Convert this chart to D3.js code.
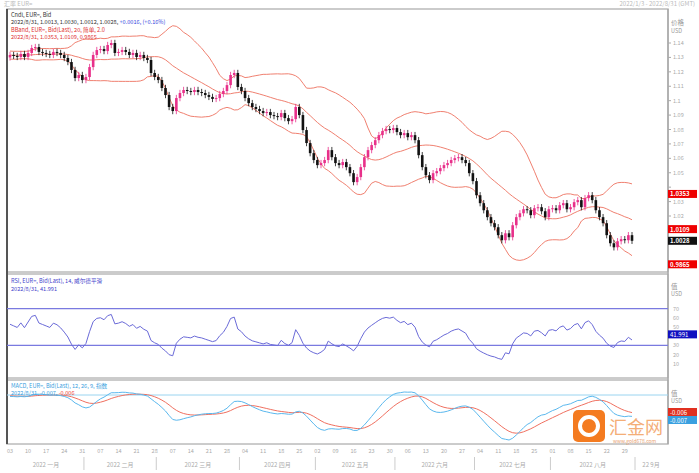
<!DOCTYPE html>
<html><head><meta charset="utf-8">
<script src="https://cdn.jsdelivr.net/npm/d3@7"></script>
<style>body{margin:0;background:#fff;font-family:"Noto Sans CJK SC","DejaVu Sans",sans-serif}</style>
</head><body><svg id="c" width="699" height="473"></svg>
<script>
// pre-history closes (used only for indicators)
const preCloses=[1.1290,1.1310,1.1335,1.1320,1.1300,1.1315,1.1340,1.1330,1.1305,1.1290,1.1310,1.1325,1.1345,1.1330,1.1315,1.1300,1.1320,1.1335,1.1325,1.1310,1.1300,1.1315,1.1330,1.1320,1.1305,1.1295];
// daily closes 2022-01-03 .. 2022-08-31
const closes=[
1.1317,1.1310,1.1303,1.1324,1.1303,1.1331,1.1365,1.1372,1.1338,1.1331,1.1324,1.1317,1.1338,1.1331,1.1317,1.1296,1.1268,1.1213,1.1157,1.1178,1.1143,
1.1164,1.1233,1.1317,1.1351,1.1358,1.1344,1.1386,1.1400,1.1331,1.1338,1.1351,1.1338,1.1317,1.1331,1.1303,1.1317,1.1296,1.1282,1.1192,1.1164,
1.1143,1.1088,1.1039,1.0956,1.0928,1.1018,1.1053,1.1074,1.1067,1.1060,1.1074,1.1060,1.1053,1.1039,1.1026,1.1012,1.1018,1.1046,1.1067,1.1108,1.1178,1.1192,1.1095,
1.1067,1.1018,1.0983,1.0956,1.0942,1.0928,1.0914,1.0921,1.0900,1.0893,1.0886,1.0914,1.0879,1.0858,1.0872,1.0956,1.0900,1.0796,1.0706,1.0636,1.0588,
1.0553,1.0567,1.0588,1.0657,1.0608,1.0567,1.0553,1.0574,1.0539,1.0497,1.0435,1.0470,1.0539,1.0608,1.0657,1.0692,1.0726,1.0761,1.0789,1.0803,1.0796,1.0810,
1.0782,1.0761,1.0775,1.0747,1.0761,1.0726,1.0622,1.0539,1.0483,1.0449,1.0497,1.0511,1.0532,1.0553,1.0567,1.0588,1.0601,1.0608,1.0588,1.0567,1.0497,1.0442,
1.0344,1.0289,1.0240,1.0192,1.0150,1.0122,1.0067,1.0032,1.0080,1.0053,1.0136,1.0192,1.0219,1.0247,1.0240,1.0206,1.0254,1.0261,1.0233,1.0192,1.0247,
1.0254,1.0240,1.0275,1.0289,1.0247,1.0261,1.0296,1.0310,1.0261,1.0324,1.0344,1.0310,1.0240,1.0192,1.0150,1.0067,1.0011,0.9983,1.0025,1.0039,1.0032,1.0067,1.0028];
const firstOpen=1.1300;
const lastBands=[1.0353,1.0109,0.9865];
const lastRsi=41.991;
const lastMacd=[-0.007,-0.006];
const monthLabels=["2022 一月","2022 二月","2022 三月","2022 四月","2022 五月","2022 六月","2022 七月","2022 八月","22 9月"];
const priceTicks=[1.14,1.13,1.12,1.11,1.10,1.09,1.08,1.07,1.06,1.05,1.04,1.03,1.02,1.01];
const rsiTicks=[70,60,50,40,30,20,10];

const svg=d3.select("#c");
const N=closes.length;
const all=preCloses.concat(closes), P=preCloses.length;
const opens=closes.map((c,i)=>i?closes[i-1]:firstOpen);
const highs=closes.map((c,i)=>Math.max(c,opens[i])+0.0022);
const lows=closes.map((c,i)=>Math.min(c,opens[i])-0.0022);
const dates=[];for(let d=new Date(2022,0,3);dates.length<N;d.setDate(d.getDate()+1)){if(d.getDay()%6)dates.push(new Date(d));}
const bb=all.map((c,i)=>{if(i<19)return null;const s=all.slice(i-19,i+1),m=d3.mean(s),sd=Math.sqrt(d3.mean(s,v=>(v-m)**2));return [m+2*sd,m,m-2*sd];}).slice(P);
let ag=0,al=0;const rsiAll=all.map((c,i)=>{if(!i)return 50;const ch=c-all[i-1];const g=Math.max(ch,0),l=Math.max(-ch,0);if(i<=14){ag+=g/14;al+=l/14;}else{ag=(ag*13+g)/14;al=(al*13+l)/14;}return al===0?100:100-100/(1+ag/al);});
const rsi=rsiAll.slice(P);
const ema=(arr,n)=>{const k=2/(n+1);let e=arr[0];return arr.map(v=>e=v*k+e*(1-k));};
const e26=ema(all,26);const macdAll=ema(all,12).map((v,i)=>v-e26[i]);const sigAll=ema(macdAll,9);
const macd=macdAll.slice(P),sig=sigAll.slice(P);

const x=d3.scaleLinear().domain([0,N-1]).range([10,632]);
const y=d3.scaleLinear().domain([1.14,1.02]).range([43,216]);
const yr=d3.scaleLinear().domain([0,100]).range([373,281]);
const ym=d3.scaleLinear().domain(d3.extent(macd.concat(sig))).range([440,392]);

svg.append("rect").attr("x",7).attr("y",9).attr("width",661).attr("height",263).attr("fill","none").attr("stroke","#bbb").attr("stroke-width",1.5);
svg.append("rect").attr("x",7).attr("y",274).attr("width",661).attr("height",104).attr("fill","none").attr("stroke","#bbb").attr("stroke-width",1.5);
svg.append("rect").attr("x",7).attr("y",380).attr("width",661).attr("height",64).attr("fill","none").attr("stroke","#bbb").attr("stroke-width",1.5);
svg.append("line").attr("x1",7).attr("x2",7).attr("y1",9).attr("y2",444).attr("stroke","#555").attr("stroke-width",2);
svg.append("text").attr("x",4).attr("y",6).attr("font-size",6).attr("fill","#bbb").text("汇率 EUR=");
svg.append("text").attr("x",695).attr("y",6).attr("font-size",6).attr("fill","#bbb").attr("text-anchor","end").text("2022/1/3 - 2022/8/31 (GMT)");

const band=k=>d3.line().x((d,i)=>x(i)).y(d=>y(d[k]));
[0,1,2].forEach(k=>svg.append("path").datum(bb).attr("d",band(k)).attr("fill","none").attr("stroke","#f08070").attr("stroke-width",1));
const g=svg.append("g");
closes.forEach((c,i)=>{const up=c>=opens[i],col=up?"#e8308a":"#111";
 g.append("line").attr("x1",x(i)).attr("x2",x(i)).attr("y1",y(highs[i])).attr("y2",y(lows[i])).attr("stroke",col).attr("stroke-width",0.8);
 g.append("rect").attr("x",x(i)-1.3).attr("width",2.6).attr("y",y(Math.max(c,opens[i]))).attr("height",Math.max(1,Math.abs(y(c)-y(opens[i])))).attr("fill",col);});

svg.append("line").attr("x1",668).attr("x2",668).attr("y1",9).attr("y2",444).attr("stroke","#999");
svg.append("text").attr("x",671).attr("y",25).attr("font-size",6.5).attr("fill","#999").text("价格");
svg.append("text").attr("x",671).attr("y",33).attr("font-size",5.5).attr("fill","#999").text("USD");
const badges=[[lastBands[0],"#e00"],[lastBands[1],"#e00"],[closes[N-1],"#111"],[lastBands[2],"#e00"]];
priceTicks.forEach(t=>{svg.append("line").attr("x1",668).attr("x2",671).attr("y1",y(t)).attr("y2",y(t)).attr("stroke","#aaa");
 if(badges.some(b=>Math.abs(y(b[0])-y(t))<7))return;
 svg.append("text").attr("x",673).attr("y",y(t)+2).attr("font-size",5.5).attr("fill","#aaa").text(t.toFixed(2).replace(/0$/,""));});
badges.forEach(([v,bg])=>{
 svg.append("rect").attr("x",668).attr("y",y(v)-4).attr("width",29).attr("height",8).attr("fill",bg);
 svg.append("text").attr("x",670).attr("y",y(v)+2.5).attr("font-size",6).attr("font-weight","bold").attr("fill","#fff").text(v.toFixed(4));});

const leg=(yy,txt,col)=>svg.append("text").attr("x",11).attr("y",yy).attr("font-size",5.6).attr("fill",col).text(txt);
leg(17,"Cndl, EUR=, Bid","#333");
const t2=leg(24,"2022/8/31, 1.0013, 1.0030, 1.0012, 1.0028, ","#333");t2.append("tspan").attr("fill","#3344dd").text("+0.0016, (+0.16%)");
leg(31.5,"BBand, EUR=, Bid(Last), 20, 简单, 2.0","#e03030");
leg(39,"2022/8/31, "+lastBands.map(v=>v.toFixed(4)).join(", "),"#e03030");

[70,30].forEach(v=>svg.append("line").attr("x1",7).attr("x2",668).attr("y1",yr(v)).attr("y2",yr(v)).attr("stroke","#7a7ae0").attr("stroke-width",1.2));
svg.append("path").datum(rsi).attr("d",d3.line().x((d,i)=>x(i)).y(d=>yr(d))).attr("fill","none").attr("stroke","#6a6ad8").attr("stroke-width",1);
leg(283,"RSI, EUR=, Bid(Last), 14, 威尔德平滑","#4444cc");
leg(291,"2022/8/31, "+lastRsi.toFixed(3),"#4444cc");
svg.append("text").attr("x",671).attr("y",289).attr("font-size",6.5).attr("fill","#999").text("值");
svg.append("text").attr("x",671).attr("y",296).attr("font-size",5.5).attr("fill","#999").text("USD");
rsiTicks.forEach(t=>{if(Math.abs(yr(t)-yr(lastRsi))<7)return;svg.append("text").attr("x",673).attr("y",yr(t)+2).attr("font-size",5.5).attr("fill","#aaa").text(t);});
svg.append("rect").attr("x",668).attr("y",yr(lastRsi)-4).attr("width",29).attr("height",8).attr("fill","#1010c0");
svg.append("text").attr("x",670).attr("y",yr(lastRsi)+2.5).attr("font-size",6).attr("fill","#fff").text(lastRsi.toFixed(3));

svg.append("line").attr("x1",7).attr("x2",668).attr("y1",395).attr("y2",395).attr("stroke","#9ad4f0");
svg.append("path").datum(sig).attr("d",d3.line().x((d,i)=>x(i)).y(d=>ym(d))).attr("fill","none").attr("stroke","#f07060").attr("stroke-width",1);
svg.append("path").datum(macd).attr("d",d3.line().x((d,i)=>x(i)).y(d=>ym(d))).attr("fill","none").attr("stroke","#5ab8ee").attr("stroke-width",1);
leg(387.5,"MACD, EUR=, Bid(Last), 12, 26, 9, 指数","#3aa0e0");
const m2=leg(395,"2022/8/31, "+lastMacd[0].toFixed(3)+", ","#3aa0e0");m2.append("tspan").attr("fill","#f04030").text(lastMacd[1].toFixed(3));
svg.append("text").attr("x",671).attr("y",396).attr("font-size",6.5).attr("fill","#999").text("值");
svg.append("text").attr("x",671).attr("y",403).attr("font-size",5.5).attr("fill","#999").text("USD");
[[lastMacd[1],"#e03020",412],[lastMacd[0],"#3aa0e0",420]].forEach(([v,c,yy])=>{
 svg.append("rect").attr("x",668).attr("y",yy-4).attr("width",29).attr("height",8).attr("fill",c);
 svg.append("text").attr("x",670).attr("y",yy+2.5).attr("font-size",6).attr("fill","#fff").text(v.toFixed(3));});

const mondays=dates.map((d,i)=>[d,i]).filter(([d])=>d.getDay()===1);
mondays.forEach(([d,i])=>svg.append("text").attr("x",x(i)).attr("y",453).attr("font-size",5.5).attr("fill","#aaa").attr("text-anchor","middle").text(String(d.getDate()).padStart(2,"0")));
const mStarts=[];dates.forEach((d,i)=>{if(!i||d.getMonth()!==dates[i-1].getMonth())mStarts.push(i);});
mStarts.forEach((s,k)=>{const e=k+1<mStarts.length?mStarts[k+1]:N;const x0=x(s)-2,x1=k+1<mStarts.length?x(e)-2:x(N-1)+3;
 svg.append("line").attr("x1",x1).attr("x2",x1).attr("y1",457).attr("y2",470).attr("stroke","#ccc");
 svg.append("text").attr("x",(x0+x1)/2).attr("y",467).attr("font-size",6).attr("fill","#aaa").attr("text-anchor","middle").text(monthLabels[k]);});
svg.append("text").attr("x",651).attr("y",467).attr("font-size",6).attr("fill","#aaa").attr("text-anchor","middle").text(monthLabels[8]);

svg.append("rect").attr("x",573).attr("y",410).attr("width",32).attr("height",32).attr("rx",5).attr("fill","#f47b20");
svg.append("circle").attr("cx",589).attr("cy",426).attr("r",9).attr("fill","none").attr("stroke","#fff").attr("stroke-width",4);
svg.append("text").attr("x",609).attr("y",434).attr("font-size",18).attr("fill","#f3a060").attr("opacity",0.85).text("汇金网");
svg.append("text").attr("x",613).attr("y",442.5).attr("font-size",5).attr("fill","#e8a070").text("www.gold678.com");
</script></body></html>
